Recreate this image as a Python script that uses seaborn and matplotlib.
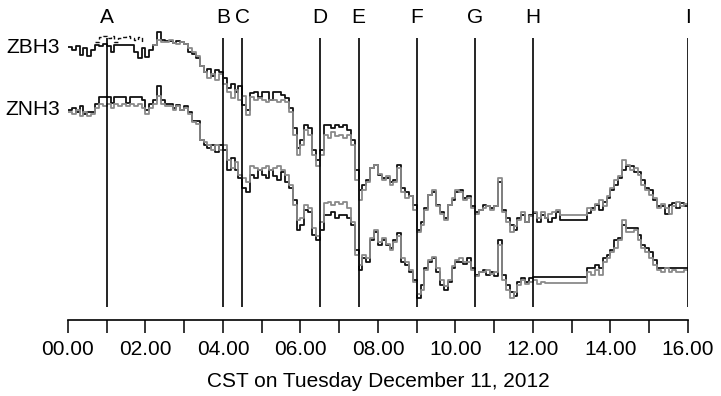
import numpy as np
import pandas as pd
import matplotlib
matplotlib.use("Agg")
import matplotlib.pyplot as plt
from matplotlib.ticker import MultipleLocator, FuncFormatter
import seaborn as sns

# Sampling grid: every 6 minutes from 00.00 to 16.00 CST
sample_hours = np.linspace(0.0, 16.0, 161)

# Relative price level (arbitrary ticks) for the two Treasury futures.
# "bid" side drawn black, "ask" side drawn gray.
zbh3_black = [
    273, 270, 274, 265, 272, 264, 270, 275, 274, 276,
    274, 268, 275, 275, 275, 275, 275, 268, 262, 272,
    263, 270, 275, 288, 280, 279, 279, 277, 279, 278,
    276, 268, 266, 262, 254, 248, 251, 244, 250, 248,
    242, 232, 236, 228, 234, 215, 210, 227, 228, 223,
    228, 228, 220, 228, 228, 225, 222, 212, 192, 172,
    180, 195, 192, 170, 160, 170, 195, 195, 192, 195,
    193, 195, 190, 180, 150, 130, 135, 140, 152, 155,
    145, 142, 142, 138, 140, 155, 132, 128, 124, 115,
    90, 98, 112, 125, 128, 115, 108, 102, 115, 120,
    128, 130, 122, 124, 114, 108, 110, 115, 114, 112,
    114, 138, 110, 102, 95, 90, 102, 105, 98, 105,
    107, 98, 105, 102, 98, 102, 108, 100, 100, 100,
    100, 100, 100, 100, 107, 112, 115, 110, 118, 122,
    130, 135, 142, 150, 154, 154, 148, 148, 140, 132,
    130, 120, 114, 114, 106, 115, 117, 112, 117, 114,
    114,
]
zbh3_gray = [
    np.nan, np.nan, np.nan, np.nan, np.nan, np.nan, np.nan, np.nan, np.nan, np.nan,
    np.nan, np.nan, np.nan, np.nan, np.nan, np.nan, np.nan, np.nan, np.nan, np.nan,
    np.nan, np.nan, 275, 280, 278, 278, 280, 277, 276, 278,
    276, 272, 268, 264, 254, 248, 242, 246, 240, 246,
    236, 228, 222, 230, 220, 224, 205, 223, 220, 222,
    220, 218, 220, 220, 218, 220, 218, 208, 185, 165,
    175, 190, 185, 165, 154, 165, 185, 182, 188, 184,
    185, 182, 185, 175, 140, 120, 130, 138, 152, 155,
    146, 140, 144, 135, 138, 152, 128, 122, 124, 110,
    88, 95, 110, 125, 130, 114, 106, 100, 115, 122,
    130, 128, 120, 122, 112, 106, 110, 112, 114, 110,
    114, 142, 108, 98, 88, 94, 100, 108, 98, 104,
    108, 102, 108, 102, 106, 108, 110, 105, 105, 105,
    105, 105, 105, 105, 112, 110, 116, 120, 114, 124,
    132, 140, 144, 160, 155, 150, 152, 145, 135, 130,
    125, 122, 112, 116, 112, 106, 114, 118, 114, 116,
    114,
]
# Short-lived third quote for ZBH3 early in the session (dashed)
zbh3_dashed_hours = [0.7, 0.8, 0.9, 1.0, 1.1, 1.2, 1.3, 1.4, 1.5, 1.6, 1.7, 1.8, 1.9]
zbh3_dashed = [278, 283, 284, 282, 284, 278, 282, 283, 284, 282, 280, 283, 278]

znh3_black = [
    210, 212, 208, 214, 206, 208, 208, 216, 223, 223,
    223, 217, 223, 223, 223, 217, 223, 223, 223, 220,
    210, 216, 220, 234, 220, 216, 216, 212, 215, 210,
    214, 208, 199, 199, 180, 175, 172, 175, 168, 175,
    170, 150, 162, 150, 142, 132, 128, 145, 142, 150,
    145, 142, 150, 144, 140, 148, 138, 132, 120, 90,
    95, 110, 108, 85, 80, 90, 105, 105, 108, 102,
    105, 105, 102, 95, 70, 50, 62, 58, 80, 88,
    75, 80, 75, 72, 80, 87, 58, 55, 48, 40,
    22, 35, 52, 58, 62, 48, 35, 30, 38, 52,
    58, 58, 56, 62, 52, 45, 48, 50, 45, 48,
    44, 80, 45, 35, 28, 24, 38, 42, 38, 42,
    43, 43, 43, 43, 43, 43, 43, 43, 43, 43,
    43, 43, 43, 43, 52, 52, 55, 52, 62, 65,
    70, 80, 82, 95, 92, 92, 92, 85, 75, 72,
    68, 60, 52, 52, 52, 52, 52, 52, 52, 52,
    52,
]
znh3_gray = [
    208, 206, 210, 204, 208, 204, 206, 212, 216, 214,
    216, 212, 216, 214, 216, 214, 216, 214, 216, 212,
    206, 212, 216, 224, 216, 214, 214, 210, 214, 210,
    212, 206, 198, 196, 180, 178, 175, 170, 175, 170,
    175, 160, 152, 158, 145, 142, 138, 154, 152, 150,
    152, 154, 150, 152, 154, 150, 145, 135, 115, 100,
    102, 115, 112, 92, 84, 98, 117, 118, 115, 118,
    116, 118, 112, 98, 65, 55, 65, 62, 82, 90,
    78, 82, 76, 70, 78, 84, 62, 58, 50, 38,
    26, 30, 50, 60, 63, 52, 40, 34, 40, 54,
    60, 62, 58, 58, 50, 44, 48, 48, 50, 46,
    48, 75, 40, 30, 22, 28, 35, 40, 36, 38,
    40, 36, 38, 37, 37, 37, 37, 37, 37, 37,
    37, 37, 37, 37, 48, 45, 50, 45, 58, 62,
    68, 72, 80, 100, 88, 88, 90, 80, 72, 68,
    62, 55, 50, 48, 52, 48, 50, 48, 48, 50,
    50,
]

contracts = ["ZBH3", "ZNH3"]
label_levels = [273, 211]

# Market events marked with vertical lines
event_labels = ["A", "B", "C", "D", "E", "F", "G", "H", "I"]
event_hours = [1.0, 4.0, 4.5, 6.5, 7.5, 9.0, 10.5, 12.0, 16.0]

sns.set_style("white")
plt.rcParams["font.family"] = ["Liberation Sans", "DejaVu Sans"]
plt.rcParams["text.color"] = "black"
plt.rcParams["axes.labelcolor"] = "black"
plt.rcParams["xtick.color"] = "black"
plt.rcParams["xtick.labelcolor"] = "black"

fig = plt.figure(figsize=(7.21, 3.96), dpi=100)
ax = fig.add_axes([0.0943, 0.1919, 0.8599, 0.7323])

black = "#111111"
gray = "#8a8a8a"
lw = 1.3

for black_vals, gray_vals in [(zbh3_black, zbh3_gray), (znh3_black, znh3_gray)]:
    sns.lineplot(x=sample_hours, y=black_vals, color=black, lw=lw,
                 drawstyle="steps-post", estimator=None, ax=ax)
    g = pd.DataFrame({"h": sample_hours, "v": gray_vals}).dropna()
    sns.lineplot(data=g, x="h", y="v", color=gray, lw=lw,
                 drawstyle="steps-post", estimator=None, ax=ax)

sns.lineplot(x=zbh3_dashed_hours, y=zbh3_dashed, color=black, lw=1.0,
             linestyle=(0, (3, 2)), drawstyle="steps-post", estimator=None, ax=ax)

ax.vlines(event_hours, 13, 282, colors="black", lw=1.2)
for lab, h in zip(event_labels, event_hours):
    ax.text(h, 303, lab, ha="center", va="center", fontsize=15, color="black",
            clip_on=False)

for name, lvl in zip(contracts, label_levels):
    ax.annotate(name, xy=(0, lvl), xytext=(-6, 0), textcoords="offset points",
                ha="right", va="center", fontsize=15, color="black",
                annotation_clip=False)

ax.set_xlim(0, 16)
ax.set_ylim(0, 290)
for side in ["top", "right", "left"]:
    ax.spines[side].set_visible(False)
ax.spines["bottom"].set_linewidth(1.2)
ax.spines["bottom"].set_color("black")
ax.set_yticks([])
ax.set_ylabel("")
ax.xaxis.set_major_locator(MultipleLocator(1))
ax.xaxis.set_major_formatter(
    FuncFormatter(lambda h, _: f"{int(round(h)):02d}.00" if int(round(h)) % 2 == 0 else ""))
ax.tick_params(axis="x", direction="out", length=9.5, width=1.1, color="black",
               labelsize=15, labelcolor="black", pad=5, bottom=True)
ax.set_xlabel("CST on Tuesday December 11, 2012", fontsize=15, color="black",
              labelpad=9)

fig.savefig("out.png", dpi=100)
